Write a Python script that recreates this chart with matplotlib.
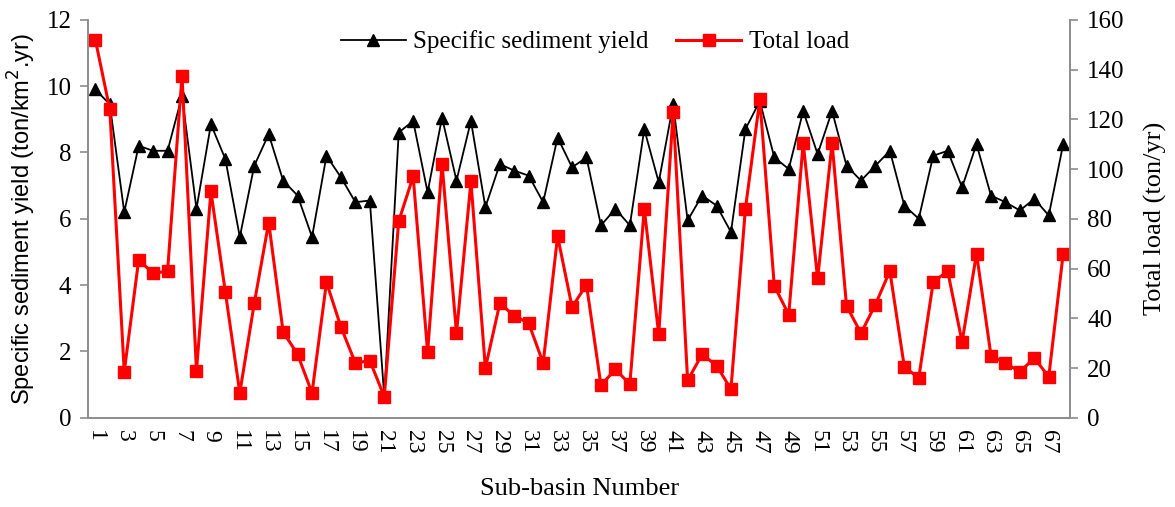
import numpy as np
import matplotlib
matplotlib.use("Agg")
import matplotlib.pyplot as plt

# sub-basin numbers 1..68
basins = list(range(1, 69))

# specific sediment yield (ton/km2.yr), left axis
ssy = [9.9, 9.45, 6.2, 8.2, 8.05, 8.05, 9.7, 6.3, 8.85, 7.8,
       5.45, 7.6, 8.55, 7.15, 6.7, 5.45, 7.9, 7.25, 6.5, 6.55,
       0.65, 8.6, 8.95, 6.8, 9.05, 7.15, 8.95, 6.35, 7.65, 7.45,
       7.3, 6.5, 8.45, 7.55, 7.85, 5.8, 6.3, 5.8, 8.7, 7.1,
       9.45, 5.95, 6.7, 6.4, 5.6, 8.7, 9.55, 7.85, 7.5, 9.25,
       7.95, 9.25, 7.6, 7.15, 7.6, 8.05, 6.4, 6.0, 7.9, 8.05,
       6.95, 8.25, 6.7, 6.5, 6.25, 6.6, 6.1, 8.25]

# total load (ton/yr), right axis
load = [152, 124, 18.5, 63.5, 58, 59, 137.5, 19, 91, 50.5,
        10, 46, 78.5, 34.5, 25.5, 10, 54.5, 36.5, 22, 23,
        8.5, 79, 97, 26.5, 102, 34, 95, 20, 46, 41,
        38, 22, 73, 44.5, 53.5, 13, 19.5, 13.5, 84, 33.5,
        123, 15, 25.5, 21, 11.5, 84, 128, 53, 41.5, 110.5,
        56, 110.5, 45, 34, 45.5, 59, 20.5, 16, 54.5, 59,
        30.5, 66, 25, 22, 18.5, 24, 16.5, 66]

serif = "Liberation Serif"
grey = "#8c8c8c"

fig = plt.figure(figsize=(11.75, 5.07), dpi=100)
ax = fig.add_axes([0.075, 0.176, 0.836, 0.785])
ax2 = ax.twinx()

x = np.arange(len(basins))
l1, = ax.plot(x, ssy, color="black", lw=1.3, marker="^", ms=8,
              label="Specific sediment yield")
l2, = ax2.plot(x, load, color="red", lw=2.2, marker="s", ms=8,
               label="Total load")

ax.set_xlim(-0.5, len(basins) - 0.5)
ax.set_ylim(0, 12)
ax2.set_ylim(0, 160)
ax.set_yticks(np.arange(0, 13, 2))
ax2.set_yticks(np.arange(0, 161, 20))

ax.set_xticks(x[::2])
ax.set_xticklabels([str(b) for b in basins[::2]], rotation=270,
                   fontsize=17, family=serif)
ax.tick_params(axis="x", length=0, pad=9)
for a in (ax, ax2):
    a.tick_params(axis="y", labelsize=18, color=grey, length=6, width=1.2,
                  pad=6)
    for lab in a.get_yticklabels():
        lab.set_family(serif)
    for s in a.spines.values():
        s.set_color(grey)
        s.set_linewidth(1.2)
    a.spines["top"].set_visible(False)

ax.set_ylabel("Specific sediment yield (ton/km$^2$.yr)", fontsize=17,
              family="Liberation Sans", labelpad=6)
ax2.set_ylabel("Total load (ton/yr)", fontsize=19, family=serif, labelpad=14)
ax.set_xlabel("Sub-basin Number", fontsize=19, family=serif, labelpad=17)

ax2.legend(handles=[l1, l2], loc="upper center", bbox_to_anchor=(0.516, 1.03),
           ncol=2, frameon=False, prop={"family": serif, "size": 18},
           handlelength=2.6, columnspacing=1.1, handletextpad=0.3)

fig.savefig("out.png", dpi=100)
